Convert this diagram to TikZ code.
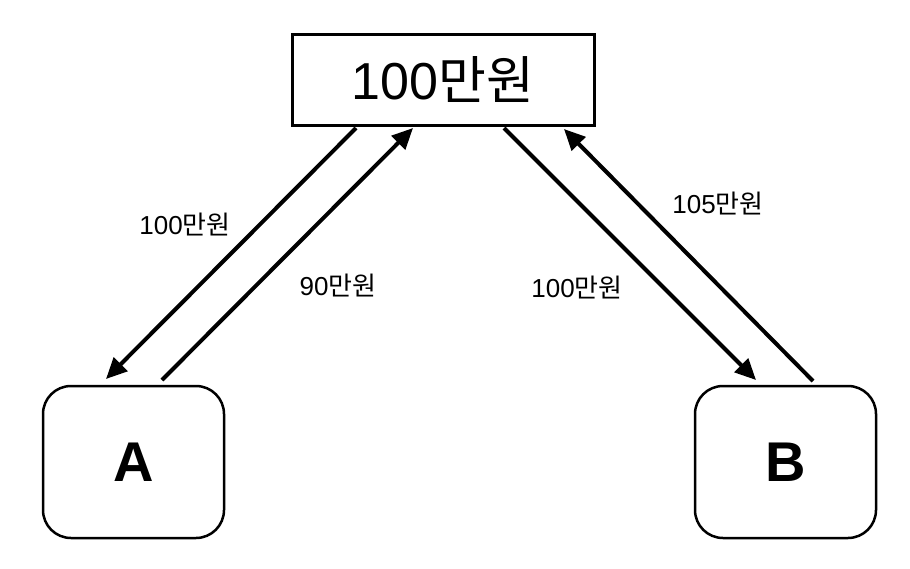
\documentclass[tikz,border=0pt]{standalone}
\usepackage{fontspec}
\setmainfont{Liberation Sans}
\newfontfamily\kr{Noto Sans CJK KR}
\usetikzlibrary{arrows.meta}
\tikzset{
  money/.style={draw, line width=3pt, minimum width=302pt, minimum height=91pt, inner sep=0pt},
  party/.style={draw, line width=2.5pt, rounded corners=28pt, minimum width=181pt, minimum height=152pt, inner sep=0pt, font=\fontsize{56}{60}\selectfont\bfseries},
  flow/.style={line width=4pt, -{Triangle[length=21pt,width=19pt]}},
  lbl/.style={font=\fontsize{26}{28}\selectfont, inner sep=0pt}
}
\begin{document}
\begin{tikzpicture}[x=1pt,y=-1pt]
\useasboundingbox[fill=white] (0,0) rectangle (910,568);
\node[money] (top) at (443,79.5) {\fontsize{52}{56}\selectfont 100{\kr 만원}};
\node[party] (A) at (133.5,462) {A};
\node[party] (B) at (785.5,462) {B};
\coordinate (s1) at (356,128);
\coordinate (e1) at (106,379);
\coordinate (s2) at (162,380);
\coordinate (e2) at (413,128);
\coordinate (s3) at (504,128);
\coordinate (e3) at (756,380);
\coordinate (s4) at (813,381);
\coordinate (e4) at (564,129);
\draw[flow] (s1) -- (e1);
\draw[flow] (s2) -- (e2);
\draw[flow] (s3) -- (e3);
\draw[flow] (s4) -- (e4);
\node[lbl] (l1) at (185,224) {100{\kr 만원}};
\node[lbl] (l2) at (338,285) {90{\kr 만원}};
\node[lbl] (l3) at (577,287) {100{\kr 만원}};
\node[lbl] (l4) at (718,203) {105{\kr 만원}};
\end{tikzpicture}
\end{document}
